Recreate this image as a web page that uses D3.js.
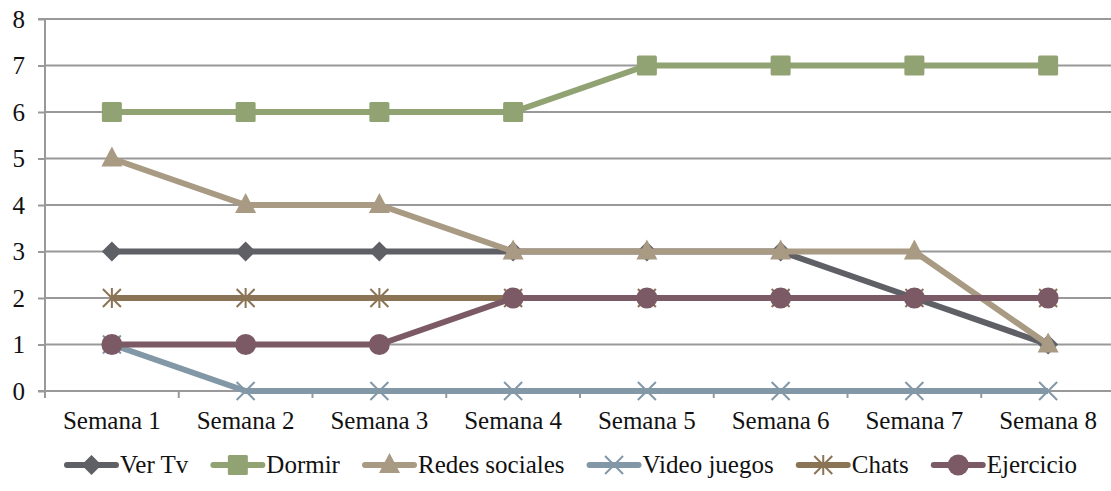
<!DOCTYPE html>
<html><head><meta charset="utf-8">
<script src="https://cdn.jsdelivr.net/npm/d3@7"></script>
<style>body{margin:0;background:#fff;}svg{display:block;} svg text{font-family:"Liberation Serif","DejaVu Serif",serif !important;}</style>
</head><body><svg id="c" width="1111" height="491"></svg>
<script>
const categories = ["Semana 1","Semana 2","Semana 3","Semana 4","Semana 5","Semana 6","Semana 7","Semana 8"];
const verTv = [3,3,3,3,3,3,2,1];
const dormir = [6,6,6,6,7,7,7,7];
const redesSociales = [5,4,4,3,3,3,3,1];
const videoJuegos = [1,0,0,0,0,0,0,0];
const chats = [2,2,2,2,2,2,2,2];
const ejercicio = [1,1,1,2,2,2,2,2];
const yTicks = [0,1,2,3,4,5,6,7,8];
const seriesNames = ["Ver Tv","Dormir","Redes sociales","Video juegos","Chats","Ejercicio"];
const seriesValues = [verTv, dormir, redesSociales, videoJuegos, chats, ejercicio];
const colors = ["#5f5f66","#91a373","#a99a83","#8398a7","#8b7455","#7b5a66"];
const markers = ["diamond","square","triangle","x","star","circle"];

const svg = d3.select("#c");
const pLeft = 45, pRight = 1115, pTop = 19, pBottom = 391;
const x = d3.scalePoint().domain(categories).range([pLeft, pRight]).padding(0.5);
const y = d3.scaleLinear().domain([0, 8]).range([pBottom, pTop]);
const step = x.step();
const fs = 25;

// gridlines
svg.append("g").selectAll("line").data(yTicks.filter(d => d > 0)).join("line")
  .attr("x1", pLeft).attr("x2", 1111).attr("y1", d => y(d)).attr("y2", d => y(d))
  .attr("stroke", "#999").attr("stroke-width", 2);

// y axis
const ya = svg.append("g").attr("transform", `translate(${pLeft},0)`)
  .call(d3.axisLeft(y).tickValues(yTicks).tickSize(7).tickPadding(13).tickFormat(d3.format("d")));
ya.attr("font-family", null);
ya.select(".domain").attr("stroke", "#999").attr("stroke-width", 2).attr("d", `M-7,${y(0)}H0V${y(8)}H-7`);
ya.selectAll(".tick line").attr("stroke", "#999").attr("stroke-width", 2);
ya.selectAll("text").attr("font-size", fs).attr("fill", "#111");

// x axis
const xa = svg.append("g").attr("transform", `translate(0,${pBottom})`);
xa.append("line").attr("x1", pLeft).attr("x2", 1111).attr("stroke", "#999").attr("stroke-width", 2);
xa.selectAll("line.t").data(d3.range(0, 9)).join("line").attr("class", "t")
  .attr("x1", i => pLeft + i * step).attr("x2", i => pLeft + i * step)
  .attr("y1", 0).attr("y2", 7).attr("stroke", "#999").attr("stroke-width", 2);
xa.selectAll("text").data(categories).join("text")
  .attr("x", d => x(d)).attr("y", 38).attr("text-anchor", "middle")
  .attr("font-size", fs).attr("fill", "#111").text(d => d);

function drawMarker(g, type, color, cx, cy) {
  if (type === "diamond") {
    g.append("path").attr("d", `M${cx},${cy-10}L${cx+10},${cy}L${cx},${cy+10}L${cx-10},${cy}Z`).attr("fill", color);
  } else if (type === "square") {
    g.append("rect").attr("x", cx-10).attr("y", cy-10).attr("width", 20).attr("height", 20).attr("rx", 1.5).attr("fill", color);
  } else if (type === "triangle") {
    g.append("path").attr("d", `M${cx},${cy-12}L${cx+10.5},${cy+8}L${cx-10.5},${cy+8}Z`).attr("fill", color);
  } else if (type === "x") {
    g.append("path").attr("d", `M${cx-9},${cy-9}L${cx+9},${cy+9}M${cx+9},${cy-9}L${cx-9},${cy+9}`).attr("stroke", color).attr("stroke-width", 2);
  } else if (type === "star") {
    g.append("path").attr("d", `M${cx-9},${cy-9}L${cx+9},${cy+9}M${cx+9},${cy-9}L${cx-9},${cy+9}M${cx},${cy-10}L${cx},${cy+10}`).attr("stroke", color).attr("stroke-width", 2);
  } else if (type === "circle") {
    g.append("circle").attr("cx", cx).attr("cy", cy).attr("r", 10.5).attr("fill", color);
  }
}

const line = d3.line().x((d, i) => x(categories[i])).y(d => y(d));
seriesValues.forEach((vals, si) => {
  const g = svg.append("g");
  g.append("path").datum(vals).attr("d", line).attr("fill", "none")
    .attr("stroke", colors[si]).attr("stroke-width", 6).attr("stroke-linejoin", "round");
  vals.forEach((v, i) => drawMarker(g, markers[si], colors[si], x(categories[i]), y(v)));
});

// legend
const lg = svg.append("g");
const ly = 465, legStart = 67, legEnd = 1077, lineLen = 49, txtGap = 4;
const items = seriesNames.map((name, si) => {
  const g = lg.append("g");
  const t = g.append("text").attr("y", ly + 8).attr("font-size", fs).attr("fill", "#111").text(name);
  return {g, t, w: t.node().getComputedTextLength(), si};
});
const totalW = d3.sum(items, d => d.w) + items.length * (lineLen + txtGap);
const gap = (legEnd - legStart - totalW) / (items.length - 1);
let lx = legStart;
items.forEach(it => {
  it.g.insert("line", "text").attr("x1", lx).attr("x2", lx + lineLen).attr("y1", ly).attr("y2", ly)
    .attr("stroke", colors[it.si]).attr("stroke-width", 6).attr("stroke-linecap", "round");
  const mg = it.g.insert("g", "text");
  drawMarker(mg, markers[it.si], colors[it.si], lx + lineLen / 2, ly);
  it.t.attr("x", lx + lineLen + txtGap);
  lx += lineLen + txtGap + it.w + gap;
});
</script></body></html>
